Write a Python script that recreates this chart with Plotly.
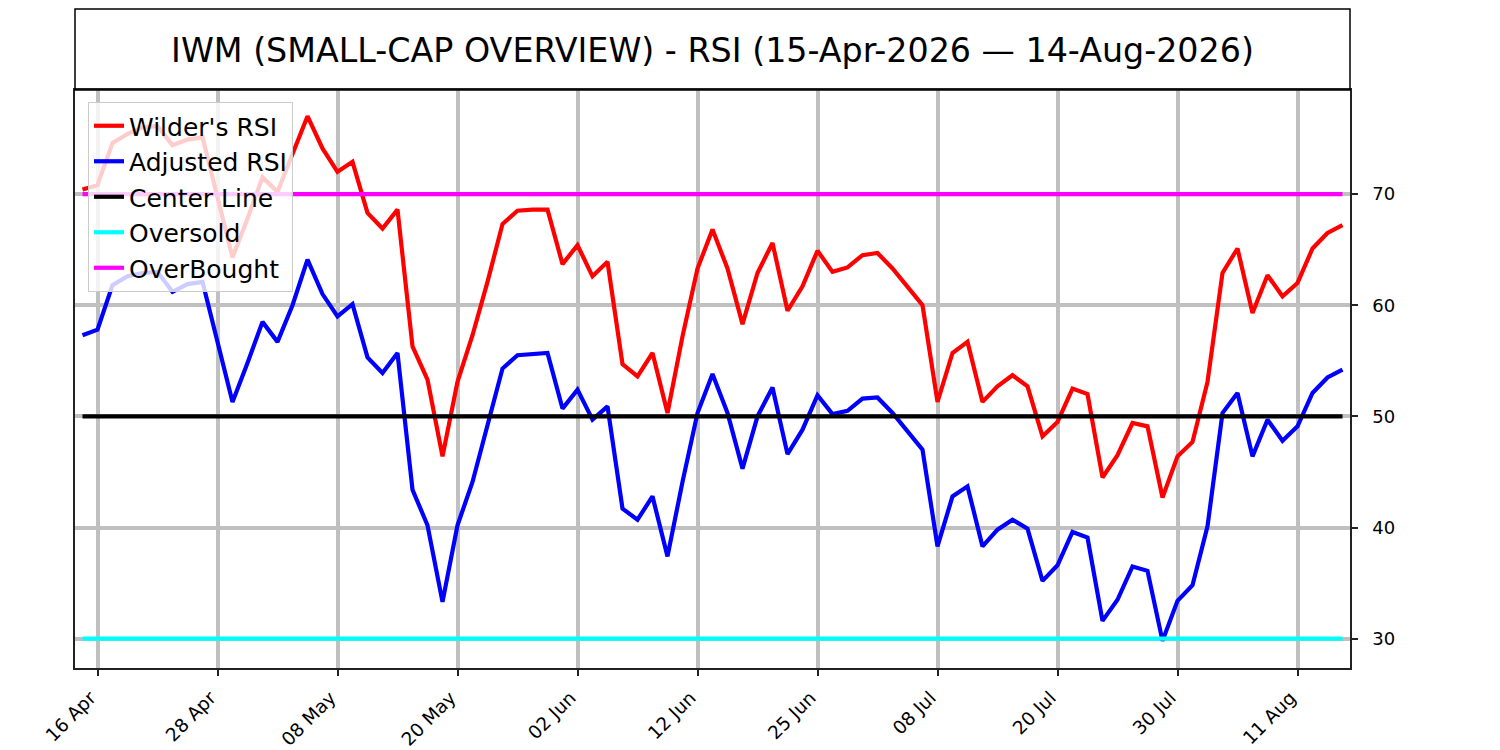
import pandas as pd
import plotly.graph_objects as go

# ---------------- data ----------------
ticker = "IWM (SMALL-CAP OVERVIEW)"
start_date = "2026-04-15"
end_date = "2026-08-14"
market_holidays = ["2026-05-25", "2026-06-19", "2026-07-03"]

wilders_rsi = [
    70.4, 70.8, 74.6, 75.4, 76.0, 76.1, 74.4, 74.9, 75.1, 69.8,
    64.3, 67.8, 71.5, 70.2, 73.7, 77.0, 74.1, 72.0, 72.9, 68.3,
    66.9, 68.6, 56.3, 53.3, 46.4, 53.1, 57.3, 62.1, 67.3, 68.5,
    68.6, 68.6, 63.7, 65.4, 62.6, 63.9, 54.7, 53.6, 55.7, 50.3,
    57.2, 63.3, 66.8, 63.3, 58.3, 62.9, 65.6, 59.5, 61.7, 64.9,
    63.0, 63.4, 64.5, 64.7, 63.3, 61.6, 60.0, 51.3, 55.7, 56.7,
    51.3, 52.7, 53.7, 52.7, 48.2, 49.5, 52.5, 52.0, 44.5, 46.5,
    49.4, 49.1, 42.7, 46.4, 47.7, 53.1, 62.9, 65.1, 59.3, 62.7,
    60.8, 62.0, 65.1, 66.5, 67.2,
]

adjusted_rsi = [
    57.3, 57.8, 61.8, 62.6, 62.9, 63.0, 61.2, 61.9, 62.1, 56.8,
    51.3, 54.8, 58.5, 56.7, 60.0, 64.1, 61.0, 59.0, 60.1, 55.3,
    53.9, 55.7, 43.4, 40.2, 33.3, 40.2, 44.1, 49.2, 54.3, 55.5,
    55.6, 55.7, 50.7, 52.4, 49.7, 50.9, 41.7, 40.7, 42.8, 37.4,
    44.1, 50.3, 53.8, 50.3, 45.3, 50.0, 52.6, 46.6, 48.8, 51.9,
    50.2, 50.5, 51.6, 51.7, 50.3, 48.6, 47.0, 38.3, 42.8, 43.7,
    38.3, 39.8, 40.7, 39.9, 35.2, 36.6, 39.6, 39.1, 31.6, 33.5,
    36.5, 36.1, 29.8, 33.4, 34.8, 40.1, 50.3, 52.1, 46.4, 49.7,
    47.8, 49.1, 52.1, 53.5, 54.2,
]

center_level = 50
oversold_level = 30
overbought_level = 70
y_ticks = [30, 40, 50, 60, 70]
tick_start = 1
tick_every = 8

# ---------------- derived ----------------
dates = [d for d in pd.bdate_range(start_date, end_date)
         if d.strftime("%Y-%m-%d") not in market_holidays]
x = list(range(len(dates)))
tickvals = x[tick_start::tick_every]
ticktext = [dates[i].strftime("%d %b") for i in tickvals]
title_text = (f"{ticker} - RSI ({dates[0].strftime('%d-%b-%Y')} \u2014 "
              f"{dates[-1].strftime('%d-%b-%Y')})")

FONT = "DejaVu Sans"
LW = 4.2

fig = go.Figure()
fig.add_trace(go.Scatter(x=x, y=wilders_rsi, mode="lines", name="Wilder's RSI",
                         line=dict(color="#ff0000", width=LW)))
fig.add_trace(go.Scatter(x=x, y=adjusted_rsi, mode="lines", name="Adjusted RSI",
                         line=dict(color="#0000ff", width=LW)))
fig.add_trace(go.Scatter(x=x, y=[center_level] * len(x), mode="lines", name="Center Line",
                         line=dict(color="#000000", width=LW)))
fig.add_trace(go.Scatter(x=x, y=[oversold_level] * len(x), mode="lines", name="Oversold",
                         line=dict(color="#00ffff", width=LW)))
fig.add_trace(go.Scatter(x=x, y=[overbought_level] * len(x), mode="lines", name="OverBought",
                         line=dict(color="#ff00ff", width=LW)))

W, H = 1500, 750
plot_left_px, plot_right_px = 75, 1350
plot_top_px, plot_bottom_px = 90, 668
plot_h = plot_bottom_px - plot_top_px
plot_w = plot_right_px - plot_left_px
box_top_px = 9

fig.update_layout(
    width=W, height=H,
    margin=dict(l=plot_left_px, r=W - plot_right_px, t=plot_top_px, b=H - plot_bottom_px, pad=0),
    paper_bgcolor="white", plot_bgcolor="white",
    font=dict(family=FONT, size=18, color="black"),
    title=dict(text=title_text, x=(plot_left_px + plot_right_px) / 2 / W,
               xanchor="center", y=1 - 50 / H, yanchor="middle",
               font=dict(family=FONT, size=33.3, color="black")),
    showlegend=True,
    legend=dict(x=(88 - plot_left_px) / plot_w, y=1 - (102 - plot_top_px) / plot_h,
                xanchor="left", yanchor="top",
                bgcolor="rgba(255,255,255,0.8)", bordercolor="#cccccc", borderwidth=1,
                font=dict(family=FONT, size=25, color="black"), itemwidth=30,
                tracegroupgap=0),
    shapes=[dict(type="rect", xref="paper", yref="paper", x0=0, x1=1, y0=1,
                 y1=1 + (plot_top_px - box_top_px) / plot_h,
                 line=dict(color="black", width=1.5), fillcolor="rgba(0,0,0,0)", layer="above")],
)

fig.update_xaxes(
    range=[-0.5, len(x) - 0.5], tickmode="array", tickvals=tickvals, ticktext=ticktext,
    tickangle=-45, ticks="outside", ticklen=6, tickwidth=1.5, tickcolor="#222222",
    showgrid=True, gridcolor="#c0c0c0", gridwidth=3.5, zeroline=False,
    showline=True, linecolor="#222222", linewidth=1.5, mirror=True, automargin=False,
    tickfont=dict(family=FONT, size=18.5, color="black"),
    ticklabelshift=-7, ticklabelstandoff=4,
)
fig.update_yaxes(
    range=[27.36, 79.36], side="right", tickmode="array", tickvals=y_ticks,
    ticks="outside", ticklen=6, tickwidth=1.5, tickcolor="#222222",
    showgrid=True, gridcolor="#c0c0c0", gridwidth=3.5, zeroline=False,
    showline=True, linecolor="#222222", linewidth=1.5, mirror=True, automargin=False,
    tickfont=dict(family=FONT, size=18, color="black"), ticklabelstandoff=11,
)

fig.write_html("out.html", config={"displayModeBar": False},
               post_script="document.body.style.margin='0';document.body.style.overflow='hidden';")
